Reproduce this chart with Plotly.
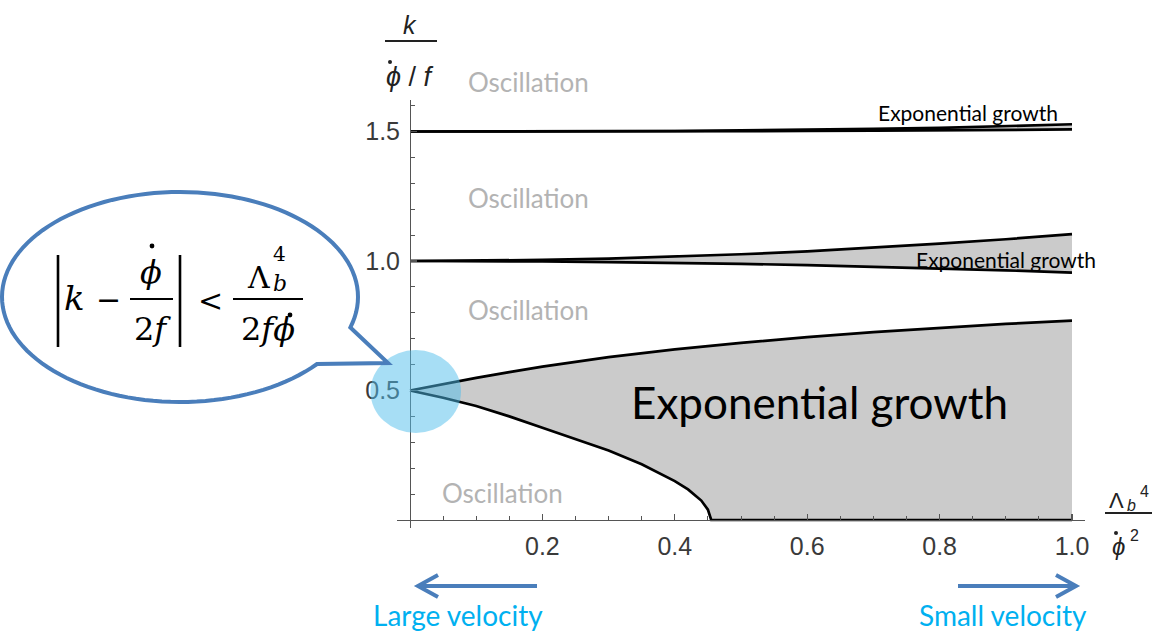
import math
import plotly.graph_objects as go

W, H = 1152, 634

# ---------------- data ----------------
x_b1_upper = [0, 0.05, 0.1, 0.15, 0.2, 0.3, 0.4, 0.5, 0.6, 0.7, 0.8, 0.9, 1.0]
y_b1_upper = [0.5, 0.525, 0.549, 0.571, 0.592, 0.629, 0.659, 0.684, 0.706, 0.725, 0.742, 0.757, 0.770]

x_b1_lower = [0, 0.05, 0.1, 0.15, 0.2, 0.25, 0.3, 0.35, 0.4, 0.42, 0.44, 0.45, 0.455]
y_b1_lower = [0.5, 0.472, 0.440, 0.400, 0.356, 0.313, 0.268, 0.215, 0.150, 0.118, 0.075, 0.040, 0.0]

x_b2 = [0, 0.1, 0.2, 0.3, 0.4, 0.5, 0.6, 0.7, 0.8, 0.9, 1.0]
y_b2_upper = [1.0, 1.001, 1.004, 1.009, 1.017, 1.026, 1.037, 1.051, 1.067, 1.084, 1.104]
y_b2_lower = [1.0, 1.0, 0.998, 0.996, 0.993, 0.989, 0.984, 0.978, 0.971, 0.964, 0.955]

x_b3 = [0, 0.1, 0.2, 0.3, 0.4, 0.5, 0.6, 0.7, 0.8, 0.9, 1.0]
y_b3_upper = [1.5, 1.5, 1.5, 1.501, 1.502, 1.504, 1.506, 1.510, 1.514, 1.520, 1.528]
y_b3_lower = [1.5, 1.5, 1.5, 1.5, 1.5, 1.501, 1.502, 1.503, 1.504, 1.506, 1.508]

x_tick_vals = [0.2, 0.4, 0.6, 0.8, 1.0]
x_tick_text = ["0.2", "0.4", "0.6", "0.8", "1.0"]
y_tick_vals = [0.5, 1.0, 1.5]
y_tick_text = ["0.5", "1.0", "1.5"]
x_minor = [round(0.05 * i, 2) for i in range(1, 21)]
y_minor = [round(0.1 * i, 1) for i in range(1, 17)]

region_labels = ["Oscillation", "Oscillation", "Oscillation", "Oscillation"]

FILL = "#cbcbcb"
LINE = "black"
BLUE = "#4a7ebb"
SKY = "#00b0f0"

fig = go.Figure()

# band fills
fig.add_trace(go.Scatter(
    x=x_b1_upper + [x_b1_upper[-1]] + x_b1_lower[::-1],
    y=y_b1_upper + [0.0] + y_b1_lower[::-1],
    fill="toself", fillcolor=FILL, mode="lines", line=dict(width=0),
    hoverinfo="skip", showlegend=False))
fig.add_trace(go.Scatter(
    x=x_b2 + x_b2[::-1], y=y_b2_upper + y_b2_lower[::-1],
    fill="toself", fillcolor=FILL, mode="lines", line=dict(width=0),
    hoverinfo="skip", showlegend=False))
fig.add_trace(go.Scatter(
    x=x_b3 + x_b3[::-1], y=y_b3_upper + y_b3_lower[::-1],
    fill="toself", fillcolor=FILL, mode="lines", line=dict(width=0),
    hoverinfo="skip", showlegend=False))

# boundary curves
curves = [
    (x_b1_upper, y_b1_upper),
    (x_b1_lower + [1.0], y_b1_lower + [0.0]),
    (x_b2, y_b2_upper), (x_b2, y_b2_lower),
    (x_b3, y_b3_upper), (x_b3, y_b3_lower),
]
for cx_, cy_ in curves:
    fig.add_trace(go.Scatter(x=cx_, y=cy_, mode="lines",
                             line=dict(color=LINE, width=2.7),
                             hoverinfo="skip", showlegend=False))

# ---------------- layout geometry ----------------
X0PX, X1PX = 410.0, 1072.0      # pixel of x=0 and x=1
Y0PX, Y05PX = 520.0, 390.5      # pixel of y=0 and y=0.5
sx = X1PX - X0PX
sy = (Y0PX - Y05PX) / 0.5
xr = [-0.02, 1.02]
yr = [-0.03, 1.62]
xd = [(X0PX + xr[0] * sx) / W, (X0PX + xr[1] * sx) / W]
yd = [1 - (Y0PX - yr[0] * sy) / H, 1 - (Y0PX - yr[1] * sy) / H]

axis_font = dict(family="Liberation Sans, Arial, sans-serif", size=25, color="#3a3a3a")

fig.update_layout(
    width=W, height=H,
    margin=dict(l=0, r=0, t=0, b=0, autoexpand=False),
    paper_bgcolor="white", plot_bgcolor="white",
    showlegend=False,
    xaxis=dict(range=xr, domain=xd, anchor="free", position=1 - Y0PX / H,
               showgrid=False, zeroline=False, showline=True,
               linecolor="#555", linewidth=1.3,
               ticks="inside", ticklen=6, tickwidth=1.2, tickcolor="#555",
               tickmode="array", tickvals=x_tick_vals, ticktext=x_tick_text,
               tickfont=axis_font, ticklabelstandoff=4,
               minor=dict(ticks="inside", ticklen=4, tickwidth=1, tickcolor="#555",
                          tickmode="array", tickvals=x_minor, showgrid=False)),
    yaxis=dict(range=yr, domain=yd, anchor="free", position=X0PX / W,
               showgrid=False, zeroline=False, showline=True,
               linecolor="#555", linewidth=1.3,
               ticks="inside", ticklen=6, tickwidth=1.2, tickcolor="#555",
               tickmode="array", tickvals=y_tick_vals, ticktext=y_tick_text,
               tickfont=axis_font, ticklabelstandoff=5,
               minor=dict(ticks="inside", ticklen=4, tickwidth=1, tickcolor="#555",
                          tickmode="array", tickvals=y_minor, showgrid=False)),
)


def px(x):
    return x / W


def py(y):
    return 1 - y / H


shapes = []
annotations = []


def ann(text, x, y, size, color="black", family="Lato, sans-serif", xanchor="center"):
    annotations.append(dict(text=text, x=px(x), y=py(y), xref="paper", yref="paper",
                            xanchor=xanchor, yanchor="middle", showarrow=False,
                            font=dict(size=size, color=color, family=family)))


def hline(x0, x1, y, w=2, color="black"):
    shapes.append(dict(type="line", xref="paper", yref="paper",
                       x0=px(x0), x1=px(x1), y0=py(y), y1=py(y),
                       line=dict(color=color, width=w), layer="above"))


def vline(x, y0, y1, w=2, color="black"):
    shapes.append(dict(type="line", xref="paper", yref="paper",
                       x0=px(x), x1=px(x), y0=py(y0), y1=py(y1),
                       line=dict(color=color, width=w), layer="above"))


def dot(x, y, r, color="black"):
    shapes.append(dict(type="circle", xref="paper", yref="paper",
                       x0=px(x - r), x1=px(x + r), y0=py(y + r), y1=py(y - r),
                       fillcolor=color, line=dict(width=0), layer="above"))


# light-blue highlight circle at (0, 0.5)
shapes.append(dict(type="circle", xref="paper", yref="paper",
                   x0=px(370.5), x1=px(461), y0=py(433), y1=py(350),
                   fillcolor="rgba(80,190,235,0.5)", line=dict(width=0), layer="above"))

# speech bubble
cx, cy, rx, ry = 180.0, 297.0, 178.0, 105.0
t_start = math.atan2(65 / ry, 133 / rx)
t_end = 2 * math.pi + math.atan2(30 / ry, 168 / rx)
pts = []
n = 120
for i in range(n + 1):
    t = t_start + (t_end - t_start) * i / n
    pts.append((cx + rx * math.cos(t), cy + ry * math.sin(t)))
pts.append((388.0, 363.0))
path = "M " + " L ".join(f"{px(a):.5f},{py(b):.5f}" for a, b in pts) + " Z"
shapes.append(dict(type="path", xref="paper", yref="paper", path=path,
                   fillcolor="white", line=dict(color=BLUE, width=4), layer="above"))


# arrows
def arrow_path(xs, xt, y, dx):
    return (f"M {px(xs):.5f},{py(y):.5f} L {px(xt):.5f},{py(y):.5f} "
            f"M {px(xt + dx):.5f},{py(y - 11):.5f} L {px(xt):.5f},{py(y):.5f} "
            f"L {px(xt + dx):.5f},{py(y + 11):.5f}")


shapes.append(dict(type="path", xref="paper", yref="paper",
                   path=arrow_path(537, 418, 586, 20), line=dict(color=BLUE, width=4),
                   layer="above"))
shapes.append(dict(type="path", xref="paper", yref="paper",
                   path=arrow_path(958, 1076, 586, -20), line=dict(color=BLUE, width=4),
                   layer="above"))

# ---------------- texts ----------------
GRAY = "#b3b3b3"
for lab, (lx, ly) in zip(region_labels, [(528, 82), (528, 198), (528, 310), (502, 493)]):
    ann(lab, lx, ly, 26, GRAY)

ann("Exponential growth", 819, 402, 44, "black")
ann("Exponential growth", 968, 112, 21, "black")
ann("Exponential growth", 1006, 259, 21, "black")

ann("Large velocity", 458, 615, 28, SKY)
ann("Small velocity", 1003, 615, 28, SKY)

SANS = "Liberation Sans, Arial, sans-serif"
SERIF = "DejaVu Serif, Liberation Serif, serif"

# y-axis label  k / (phi-dot / f)
ann("<i>k</i>", 410, 25, 25, "#222", SANS)
hline(385, 437, 41, 2, "#222")
ann("<i>\u03d5</i> / <i>f</i>", 410, 77, 27, "#222", SANS)
dot(390, 62, 2, "#222")

# x-axis label  Lambda_b^4 / phi-dot^2
ann("\u039b", 1116, 500, 22, "#222", SANS)
ann("<i>b</i>", 1131, 505, 16, "#222", SANS)
ann("4", 1144, 491, 16, "#222", SANS)
hline(1105, 1152, 513, 2, "#222")
ann("<i>\u03d5</i>", 1118, 546, 24, "#222", SANS)
dot(1116, 533, 2, "#222")
ann("2", 1134, 535, 16, "#222", SANS)

# formula in bubble: |k - phi-dot/(2f)| < Lambda_b^4/(2 f phi-dot)
vline(58, 255, 347, 2.6)
ann("<i>k</i>", 74, 298, 34, "black", SERIF)
ann("\u2212", 108, 300, 30, "black", SERIF)
ann("<i>\u03d5</i>", 151, 272, 32, "black", SERIF)
dot(152, 246, 2.4)
hline(130, 173, 299, 2.2)
ann("2<i>f</i>", 152, 329, 32, "black", SERIF)
vline(180, 255, 347, 2.6)
ann("<", 210, 301, 30, "black", SERIF)
ann("\u039b", 258, 278, 30, "black", SERIF)
ann("<i>b</i>", 280, 283, 22, "black", SERIF)
ann("4", 279, 254, 20, "black", SERIF)
hline(233, 303, 299, 2.2)
ann("2<i>f\u03d5</i>", 268, 329, 32, "black", SERIF)
dot(290, 315, 2.4)

fig.update_layout(shapes=shapes, annotations=annotations)
fig.write_html("out.html",
               config={"displayModeBar": False, "staticPlot": True},
               post_script="document.body.style.margin='0px';"
                           "document.body.style.overflow='hidden';")
